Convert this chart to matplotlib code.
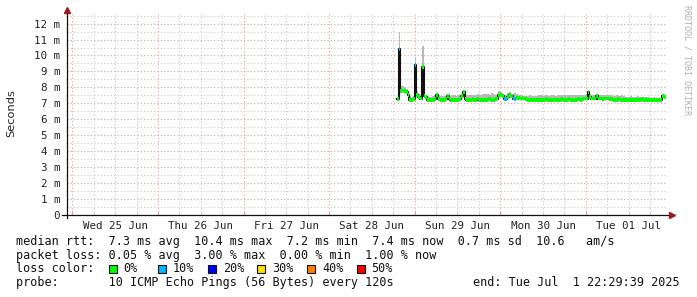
import pandas as pd
import matplotlib
matplotlib.use('Agg')
import matplotlib.pyplot as plt
import matplotlib.dates as mdates
from matplotlib.patches import Rectangle

# Data: 30 minute bins, starting Sat 28 Jun 19:00
start_time = '2025-06-28 19:00'
median_ms = [
    7.25, 10.4, 7.75, 7.8, 7.75, 7.7, 7.5, 7.2, 7.2, 7.25,
    9.4, 7.5, 7.4, 7.3, 9.3, 7.45, 7.4, 7.2, 7.2, 7.2,
    7.2, 7.25, 7.5, 7.25, 7.2, 7.2, 7.2, 7.25, 7.45, 7.3,
    7.2, 7.2, 7.2, 7.2, 7.2, 7.25, 7.45, 7.7, 7.3, 7.2,
    7.2, 7.2, 7.25, 7.2, 7.2, 7.3, 7.2, 7.2, 7.2, 7.2,
    7.2, 7.25, 7.25, 7.2, 7.2, 7.25, 7.3, 7.5, 7.5, 7.45,
    7.25, 7.25, 7.4, 7.5, 7.45, 7.3, 7.25, 7.35, 7.35, 7.3,
    7.35, 7.3, 7.25, 7.2, 7.2, 7.2, 7.2, 7.2, 7.2, 7.2,
    7.2, 7.2, 7.2, 7.25, 7.2, 7.2, 7.2, 7.2, 7.25, 7.2,
    7.2, 7.2, 7.25, 7.2, 7.2, 7.2, 7.25, 7.2, 7.2, 7.2,
    7.2, 7.25, 7.25, 7.2, 7.25, 7.3, 7.3, 7.7, 7.4, 7.3,
    7.3, 7.3, 7.45, 7.3, 7.3, 7.25, 7.3, 7.3, 7.3, 7.25,
    7.25, 7.2, 7.2, 7.2, 7.25, 7.2, 7.2, 7.2, 7.2, 7.2,
    7.2, 7.2, 7.2, 7.2, 7.2, 7.2, 7.2, 7.25, 7.2, 7.2,
    7.2, 7.2, 7.2, 7.2, 7.2, 7.2, 7.2, 7.2, 7.2, 7.45, 7.4,
]
smoke_max_ms = [
    7.3, 11.5, 8.1, 8.1, 8.0, 7.9, 7.7, 7.45, 7.4, 7.45,
    9.9, 7.8, 7.6, 7.55, 10.6, 7.7, 7.55, 7.45, 7.4, 7.4,
    7.45, 7.5, 7.6, 7.5, 7.45, 7.45, 7.45, 7.45, 7.6, 7.5,
    7.45, 7.5, 7.5, 7.45, 7.5, 7.5, 7.6, 7.75, 7.55, 7.5,
    7.5, 7.55, 7.55, 7.5, 7.55, 7.6, 7.5, 7.55, 7.6, 7.6,
    7.6, 7.6, 7.55, 7.65, 7.6, 7.55, 7.6, 7.8, 7.7, 7.6,
    7.5, 7.55, 7.65, 7.7, 7.6, 7.6, 7.65, 7.6, 7.55, 7.55,
    7.5, 7.45, 7.45, 7.45, 7.5, 7.45, 7.45, 7.45, 7.45, 7.5,
    7.5, 7.5, 7.45, 7.5, 7.5, 7.45, 7.5, 7.5, 7.5, 7.45,
    7.5, 7.55, 7.5, 7.5, 7.55, 7.5, 7.55, 7.55, 7.5, 7.55,
    7.5, 7.55, 7.55, 7.5, 7.55, 7.55, 7.6, 7.85, 7.6, 7.55,
    7.5, 7.55, 7.6, 7.5, 7.5, 7.5, 7.5, 7.55, 7.5, 7.5,
    7.5, 7.45, 7.45, 7.5, 7.45, 7.45, 7.5, 7.45, 7.4, 7.4,
    7.4, 7.45, 7.4, 7.4, 7.4, 7.45, 7.4, 7.4, 7.4, 7.4,
    7.4, 7.4, 7.35, 7.35, 7.4, 7.35, 7.35, 7.35, 7.4, 7.55, 7.5,
]
# packet loss per bin (%)
loss_pct = [0] * 151
for i in [1, 10, 60, 61, 65, 66]:
    loss_pct[i] = 10

loss_labels = ['0%', '10%', '20%', '30%', '40%', '50%']
loss_colors = ['#00ff00', '#00b8ff', '#0000ff', '#ffe000', '#ff7f00', '#ff0000']
day_labels = ['Wed 25 Jun', 'Thu 26 Jun', 'Fri 27 Jun', 'Sat 28 Jun',
              'Sun 29 Jun', 'Mon 30 Jun', 'Tue 01 Jul']
y_ticks = list(range(0, 13))

W, H = 697, 297
fig = plt.figure(figsize=(W / 100, H / 100), dpi=100)
ax = fig.add_axes([67 / W, 1 - 215 / H, 599 / W, 201 / H])

edges = pd.date_range(start_time, periods=len(median_ms) + 1, freq='30min')
t = mdates.date2num(edges)
bin_w = t[1] - t[0]

# smoke (gray area from median up to max ping)
ax.fill_between(t[:-1], median_ms, smoke_max_ms, step='post', color='#b8b8b8', lw=0)
ax.fill_between(t[-2:], [median_ms[-1]] * 2, [smoke_max_ms[-1]] * 2, color='#b8b8b8', lw=0)

# median line, black jumps then loss-coloured band on top
ax.step(t, median_ms + [median_ms[-1]], where='post', color='#111111', lw=1.5, zorder=2)
bar_colors = [loss_colors[l // 10] for l in loss_pct]
ax.bar(t[:-1], 0.24, width=bin_w, bottom=[m - 0.12 for m in median_ms],
       align='edge', color=bar_colors, lw=0, zorder=3)

# axes limits and grid
x0 = mdates.date2num(pd.Timestamp('2025-06-24 22:29:39'))
x1 = mdates.date2num(pd.Timestamp('2025-07-01 22:29:39'))
ax.set_xlim(x0, x1)
ax.set_ylim(0, 12.6)

ax.xaxis.set_major_locator(mdates.DayLocator())
ax.xaxis.set_minor_locator(mdates.HourLocator(byhour=[6, 12, 18]))
ax.xaxis.set_major_formatter(plt.NullFormatter())
ax.set_yticks(y_ticks)
ax.set_yticks([v + 0.5 for v in y_ticks[:-1]] + [12.5], minor=True)
ax.set_yticklabels([f'{v} m' if v else '0' for v in y_ticks],
                   family='DejaVu Sans Mono', fontsize=7.8, color='#222222')
ax.grid(which='minor', color='#c8c8c8', ls=(0, (1, 2)), lw=0.8)
ax.grid(which='major', color='#e0a0a0', ls=(0, (1, 2)), lw=0.8)
ax.set_axisbelow(True)
ax.tick_params(axis='x', which='major', length=3, direction='in', color='#e0a0a0')
ax.tick_params(axis='x', which='minor', length=2, direction='in', color='#c8c8c8')
ax.tick_params(axis='y', which='both', length=0, pad=5)
for s in ax.spines.values():
    s.set_visible(False)

# axis lines with arrows
ax.plot([-0.008, 1.008], [0, 0], transform=ax.transAxes, color='#111111', lw=0.9, clip_on=False)
ax.plot([0, 0], [-0.015, 1.01], transform=ax.transAxes, color='#111111', lw=0.9, clip_on=False)
ax.plot([1.01], [0], transform=ax.transAxes, marker='>', ms=4, color='#9a1a1a', clip_on=False)
ax.plot([0], [1.02], transform=ax.transAxes, marker='^', ms=4, color='#9a1a1a', clip_on=False)

# day labels at noon
noons = pd.date_range('2025-06-25 12:00', periods=len(day_labels), freq='D')
for d, lab in zip(mdates.date2num(noons), day_labels):
    ax.text(d, -0.028, lab, transform=ax.get_xaxis_transform(), ha='center', va='top',
            family='DejaVu Sans Mono', fontsize=7.8, color='#222222')

fig.text(11 / W, 1 - 113 / H, 'Seconds', rotation=90, ha='center', va='center',
         fontsize=8.2, color='#222222')
fig.text(687 / W, 1 - 5 / H, 'RRDTOOL / TOBI OETIKER', rotation=270, ha='center', va='top',
         family='DejaVu Sans Mono', fontsize=6.0, color='#b0b0b0')

# legend block
mono = dict(family='DejaVu Sans Mono', fontsize=8.5, color='#111111', va='center')
fig.text(16 / W, 1 - 241.5 / H,
         'median rtt:  7.3 ms avg  10.4 ms max  7.2 ms min  7.4 ms now  0.7 ms sd  10.6   am/s',
         **mono)
fig.text(16 / W, 1 - 255 / H,
         'packet loss: 0.05 % avg  3.00 % max  0.00 % min  1.00 % now', **mono)
fig.text(16 / W, 1 - 269 / H, 'loss color:', **mono)
for i, (lab, col) in enumerate(zip(loss_labels, loss_colors)):
    bx = 108.5 + i * 49.6
    fig.patches.append(Rectangle((bx / W, 1 - 273 / H), 8 / W, 8 / H, facecolor=col,
                                 edgecolor='#111111', lw=0.8, transform=fig.transFigure))
    fig.text((bx + 15) / W, 1 - 269 / H, lab, **mono)
fig.text(16 / W, 1 - 282.5 / H, 'probe:       10 ICMP Echo Pings (56 Bytes) every 120s', **mono)
fig.text(680 / W, 1 - 282.5 / H, 'end: Tue Jul  1 22:29:39 2025', ha='right', **mono)

fig.savefig('out.png', dpi=100)
